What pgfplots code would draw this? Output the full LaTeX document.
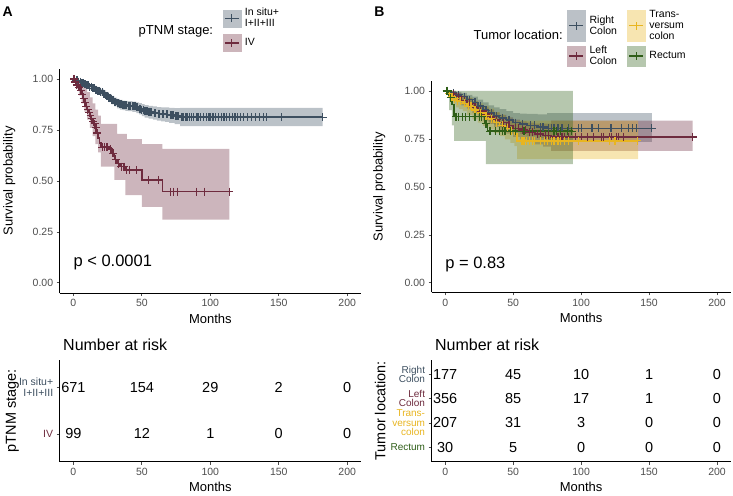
\documentclass[border=0pt]{standalone}
\usepackage{fontspec}
\setmainfont{Liberation Sans}
\usepackage{pgfplots}
\pgfplotsset{compat=1.18}
\usepgfplotslibrary{fillbetween}
\definecolor{slate}{HTML}{3D4F60}
\definecolor{maroon}{HTML}{6E2B3E}
\definecolor{gold}{HTML}{E8B520}
\definecolor{dgreen}{HTML}{2F5E18}
\definecolor{ticklab}{HTML}{4D4D4D}
\pgfplotsset{
  base/.style={scale only axis, clip=false,
    axis x line*=bottom, axis y line*=left,
    axis line style={-, black, line width=1pt},
    tick align=outside, major tick length=3pt,
    tick style={ticklab, line width=0.7pt},
    xmin=-10, xmax=210, xtick={0,50,100,150,200},
    tick label style={font=\fontsize{10.5}{12}\selectfont, text=ticklab},
    /pgf/number format/assume math mode=true,
    label style={font=\fontsize{13}{14}\selectfont},
    xlabel={Months}, scaled ticks=false},
  km/.style={base, ymin=-0.05, ymax=1.05, ytick={0,0.25,0.5,0.75,1},
    yticklabel style={/pgf/number format/fixed, /pgf/number format/fixed zerofill, /pgf/number format/precision=2},
    ylabel={Survival probability}},
  curve/.style={const plot, line width=1.6pt, color=#1, forget plot},
  cens/.style={only marks, mark=+, mark size=4pt, color=#1, mark options={line width=1.2pt}, forget plot},
  bandp/.style={const plot, draw=none, forget plot},
  risk/.style={only marks, mark=none, nodes near coords, point meta=explicit symbolic,
    nodes near coords style={anchor=center, font=\fontsize{14.5}{16}\selectfont, text=black}, forget plot},
}
\begin{document}
\begin{tikzpicture}
\path (0,0) rectangle (733pt,493pt);
\node[anchor=north west, inner sep=0pt, font=\bfseries\fontsize{14}{14}\selectfont] at (2pt,486pt) {A};
\node[anchor=north west, inner sep=0pt, font=\bfseries\fontsize{14}{14}\selectfont] at (374pt,486pt) {B};

% ================= Panel A main =================
\begin{axis}[km, at={(59.3pt,199.8pt)}, anchor=south west, width=301.4pt, height=224.4pt,
  ylabel style={at={(axis description cs:-0.167,0.5)}, anchor=center},
  legend style={at={(axis description cs:0.540,1.28)}, anchor=north west, draw=none, fill=none,
    inner sep=0pt, font=\fontsize{10.5}{11}\selectfont, cells={anchor=west, align=left}, row sep=4pt,
    nodes={inner xsep=4pt}}]
\addplot[bandp, name path=aU] coordinates {(0,1.0)(2,1.0)(4,0.996)(6,0.99)(8,0.985)(10,0.98)(12,0.975)(14,0.968)(16,0.962)(18,0.957)(20,0.951)(22,0.944)(24,0.935)(26,0.926)(28,0.917)(30,0.909)(32,0.902)(34,0.897)(36,0.894)(38,0.892)(40,0.891)(43,0.889)(46,0.885)(48,0.881)(50,0.876)(52,0.871)(55,0.868)(58,0.865)(61,0.862)(64,0.861)(67,0.86)(70,0.858)(74,0.857)(78,0.858)(182,0.858)};
\addplot[bandp, name path=aL] coordinates {(0,1.0)(2,0.985)(4,0.977)(6,0.97)(8,0.963)(10,0.956)(12,0.948)(14,0.94)(16,0.932)(18,0.925)(20,0.917)(22,0.908)(24,0.897)(26,0.886)(28,0.875)(30,0.865)(32,0.856)(34,0.85)(36,0.847)(38,0.844)(40,0.842)(43,0.838)(46,0.832)(48,0.826)(50,0.818)(52,0.81)(55,0.805)(58,0.8)(61,0.795)(64,0.792)(67,0.789)(70,0.784)(74,0.778)(78,0.768)(182,0.768)};
\addplot[fill=slate, fill opacity=0.35, draw=none, forget plot] fill between[of=aU and aL];
\addplot[bandp, name path=bU] coordinates {(0,1.0)(2,1.0)(4,0.99)(6,0.975)(8,0.955)(10,0.935)(12,0.91)(14,0.88)(16,0.85)(18,0.82)(20,0.78)(32,0.73)(39,0.705)(50,0.68)(65,0.657)(114,0.657)};
\addplot[bandp, name path=bL] coordinates {(0,1.0)(2,0.95)(4,0.92)(6,0.88)(8,0.84)(10,0.80)(12,0.76)(14,0.72)(16,0.68)(18,0.64)(20,0.57)(30,0.505)(38,0.43)(50,0.373)(65,0.31)(114,0.31)};
\addplot[fill=maroon, fill opacity=0.35, draw=none, forget plot] fill between[of=bU and bL];
\addplot[curve=slate] coordinates {(0,1.0)(2,0.993)(4,0.987)(6,0.981)(8,0.975)(10,0.969)(12,0.962)(14,0.955)(16,0.948)(18,0.942)(20,0.935)(22,0.927)(24,0.917)(26,0.907)(28,0.897)(30,0.888)(32,0.880)(34,0.875)(36,0.872)(38,0.870)(40,0.868)(43,0.865)(46,0.860)(48,0.855)(50,0.848)(52,0.842)(55,0.838)(58,0.834)(61,0.830)(64,0.828)(67,0.826)(70,0.822)(74,0.818)(78,0.812)(182,0.812)};
\addplot[cens=slate] coordinates {(1,1.0)(2,0.993)(3,0.993)(4,0.987)(5,0.987)(6,0.981)(7,0.981)(8,0.975)(9,0.975)(10,0.969)(11,0.969)(12,0.962)(13,0.962)(14,0.955)(15,0.955)(16,0.948)(17,0.948)(18,0.942)(19,0.942)(20,0.935)(21,0.935)(22,0.927)(23,0.927)(24,0.917)(25,0.917)(26,0.907)(27,0.907)(28,0.897)(29,0.897)(30,0.888)(31,0.888)(32,0.880)(33,0.880)(34,0.875)(35,0.875)(36,0.872)(37,0.872)(38,0.870)(39,0.870)(40,0.868)(41,0.868)(42,0.868)(43,0.865)(44,0.865)(45,0.865)(46,0.860)(47,0.860)(48,0.855)(49,0.855)(50,0.848)(51,0.848)(52,0.842)(53,0.842)(54,0.842)(55,0.838)(56,0.838)(57,0.838)(59,0.834)(60,0.834)(62,0.830)(63,0.830)(65,0.828)(66,0.828)(68,0.826)(69,0.826)(71,0.822)(72,0.822)(73,0.822)(75,0.818)(76,0.818)(77,0.818)(79,0.812)(80,0.812)(82,0.812)(83,0.812)(85,0.812)(86,0.812)(88,0.812)(90,0.812)(91,0.812)(93,0.812)(95,0.812)(97,0.812)(99,0.812)(100,0.812)(102,0.812)(104,0.812)(106,0.812)(108,0.812)(110,0.812)(112,0.812)(114,0.812)(116,0.812)(118,0.812)(120,0.812)(122,0.812)(124,0.812)(127,0.812)(130,0.812)(133,0.812)(136,0.812)(139,0.812)(141,0.812)(152,0.812)(182,0.812)};
\addplot[curve=maroon] coordinates {(0,1.0)(1,0.985)(2,0.97)(3,0.96)(5,0.945)(6,0.925)(7,0.905)(8,0.885)(9,0.865)(10,0.85)(11,0.835)(12,0.82)(13,0.805)(14,0.79)(15,0.78)(16,0.76)(17,0.735)(18,0.71)(19,0.685)(20,0.665)(26,0.655)(28,0.635)(30,0.605)(32,0.585)(34,0.57)(38,0.553)(50,0.505)(65,0.447)(114,0.447)};
\addplot[cens=maroon] coordinates {(0.5,1.0)(1.5,0.985)(2.5,0.97)(4,0.96)(5.5,0.945)(6.5,0.925)(7.5,0.905)(8.5,0.885)(9.5,0.865)(10.5,0.85)(11.5,0.835)(12.5,0.82)(13.5,0.805)(14.5,0.79)(15.5,0.78)(16.5,0.76)(17.5,0.735)(21,0.665)(23,0.665)(24,0.665)(25,0.665)(27,0.655)(29,0.635)(31,0.605)(33,0.585)(35,0.57)(37,0.57)(39,0.553)(41,0.553)(46,0.553)(55,0.505)(62,0.505)(71,0.447)(73,0.447)(76,0.447)(90,0.447)(96,0.447)(114,0.447)};
\node[anchor=west, inner sep=0pt, font=\fontsize{16.5}{18}\selectfont] at (axis cs:0,0.1) {p < 0.0001};
\node[anchor=east, inner sep=0pt, font=\fontsize{13}{14}\selectfont] at (axis description cs:0.51,1.165) {pTNM stage:};
\addlegendimage{legend image code/.code={\fill[slate!35] (0pt,-8.5pt) rectangle (18pt,8.5pt); \draw[slate, line width=1.2pt] (2pt,0pt) -- (16pt,0pt) (9pt,-4pt) -- (9pt,4pt);}}
\addlegendentry{In situ+\\I+II+III}
\addlegendimage{legend image code/.code={\fill[maroon!35] (0pt,-8.5pt) rectangle (18pt,8.5pt); \draw[maroon, line width=1.2pt] (2pt,0pt) -- (16pt,0pt) (9pt,-4pt) -- (9pt,4pt);}}
\addlegendentry{IV}
\end{axis}

% ================= Panel A risk table =================
\begin{axis}[base, at={(59.3pt,31pt)}, anchor=south west, width=301.4pt, height=102pt,
  ymin=0.4, ymax=2.6, ytick={1,2},
  yticklabels={{\textcolor{maroon}{IV}},{\textcolor{slate}{In situ+}\\\textcolor{slate}{I+II+III}}},
  yticklabel style={align=right, font=\fontsize{10.5}{11}\selectfont},
  ylabel={pTNM stage:}, ylabel style={at={(axis description cs:-0.157,0.5)}, anchor=center, font=\fontsize{14.5}{16}\selectfont},
  title={Number at risk}, title style={at={(axis description cs:0,1)}, anchor=base west, yshift=3pt, font=\fontsize{16}{18}\selectfont}]
\addplot[risk] table[meta=n] {
x y n
0 2 671
50 2 154
100 2 29
150 2 2
200 2 0
0 1 99
50 1 12
100 1 1
150 1 0
200 1 0
};
\end{axis}

% ================= Panel B main =================
\begin{axis}[km, at={(431.4pt,200.4pt)}, anchor=south west, width=299.2pt, height=211.2pt,
  ylabel style={at={(axis description cs:-0.175,0.5)}, anchor=center},
  legend columns=2,
  legend style={at={(axis description cs:0.453,1.3475)}, anchor=north west, draw=none, fill=none,
    inner sep=0pt, font=\fontsize{10.5}{11}\selectfont, cells={anchor=west, align=left}, row sep=1pt,
    nodes={inner xsep=4pt},
    /tikz/every even column/.append style={column sep=6pt}}]
\addplot[bandp, name path=rU] coordinates {(0,1.0)(4,1.0)(8,0.995)(12,0.99)(16,0.98)(20,0.97)(24,0.955)(28,0.94)(32,0.925)(36,0.915)(40,0.905)(45,0.895)(50,0.885)(55,0.882)(60,0.88)(68,0.878)(75,0.885)(152,0.885)};
\addplot[bandp, name path=rL] coordinates {(0,1.0)(4,0.975)(8,0.96)(12,0.945)(16,0.925)(20,0.905)(24,0.88)(28,0.86)(32,0.84)(36,0.825)(40,0.81)(45,0.8)(50,0.785)(55,0.775)(60,0.765)(68,0.755)(75,0.735)(152,0.735)};
\addplot[fill=slate, fill opacity=0.35, draw=none, forget plot] fill between[of=rU and rL];
\addplot[bandp, name path=lU] coordinates {(0,1.0)(4,1.0)(8,0.99)(12,0.975)(16,0.962)(20,0.945)(24,0.928)(28,0.915)(32,0.902)(36,0.888)(40,0.875)(45,0.862)(50,0.85)(55,0.842)(60,0.835)(66,0.83)(72,0.83)(78,0.845)(182,0.845)};
\addplot[bandp, name path=lL] coordinates {(0,1.0)(4,0.97)(8,0.95)(12,0.925)(16,0.908)(20,0.885)(24,0.862)(28,0.845)(32,0.828)(36,0.812)(40,0.795)(45,0.778)(50,0.76)(55,0.748)(60,0.736)(66,0.722)(72,0.71)(78,0.6875)(182,0.6875)};
\addplot[fill=maroon, fill opacity=0.35, draw=none, forget plot] fill between[of=lU and lL];
\addplot[bandp, name path=tU] coordinates {(0,1.0)(2,1.0)(4,0.995)(6,0.99)(8,0.985)(10,0.982)(13,0.975)(16,0.965)(20,0.948)(24,0.935)(28,0.922)(32,0.908)(36,0.89)(40,0.877)(44,0.864)(48,0.852)(51,0.84)(53,0.845)(142,0.845)};
\addplot[bandp, name path=tL] coordinates {(0,1.0)(2,0.965)(4,0.945)(6,0.93)(8,0.915)(10,0.905)(13,0.895)(16,0.875)(20,0.852)(24,0.835)(28,0.818)(32,0.8)(36,0.78)(40,0.764)(44,0.748)(48,0.73)(51,0.712)(53,0.645)(142,0.645)};
\addplot[fill=gold, fill opacity=0.35, draw=none, forget plot] fill between[of=tU and tL];
\addplot[bandp, name path=gU] coordinates {(0,1.0)(94,1.0)};
\addplot[bandp, name path=gL] coordinates {(0,1.0)(3,0.9)(5,0.82)(6.5,0.74)(30,0.618)(94,0.618)};
\addplot[fill=dgreen, fill opacity=0.35, draw=none, forget plot] fill between[of=gU and gL];
% Right colon
\addplot[curve=slate] coordinates {(0,1.0)(4,0.99)(8,0.98)(12,0.97)(16,0.955)(20,0.94)(24,0.92)(28,0.90)(32,0.885)(36,0.87)(40,0.86)(45,0.85)(50,0.835)(55,0.828)(60,0.82)(68,0.812)(75,0.805)(152,0.805)};
\addplot[cens=slate] coordinates {(2,1.0)(6,0.99)(10,0.98)(14,0.97)(18,0.955)(22,0.94)(26,0.92)(30,0.90)(34,0.885)(38,0.87)(42,0.86)(47,0.85)(52,0.835)(57,0.828)(63,0.82)(66,0.82)(70,0.812)(72,0.812)(76,0.805)(78,0.805)(80,0.805)(83,0.805)(86,0.805)(91,0.805)(98,0.805)(100.5,0.805)(108,0.805)(113,0.805)(122,0.805)(130,0.805)(135,0.805)(138,0.805)(141,0.805)(152,0.805)};
% Left colon
\addplot[curve=maroon] coordinates {(0,1.0)(4,0.985)(8,0.97)(12,0.95)(16,0.935)(20,0.915)(24,0.895)(28,0.88)(32,0.865)(36,0.85)(40,0.835)(45,0.82)(50,0.805)(55,0.795)(60,0.785)(66,0.775)(72,0.768)(78,0.76)(182,0.76)};
\addplot[cens=maroon] coordinates {(2,1.0)(6,0.985)(10,0.97)(14,0.95)(18,0.935)(22,0.915)(26,0.895)(30,0.88)(34,0.865)(38,0.85)(43,0.835)(47,0.82)(52,0.805)(54,0.805)(57,0.795)(59,0.795)(62,0.785)(64,0.785)(68,0.775)(70,0.775)(74,0.768)(76,0.768)(80,0.76)(83,0.76)(86,0.76)(88,0.76)(91,0.76)(96,0.76)(100.5,0.76)(105,0.76)(109,0.76)(115,0.76)(116.5,0.76)(121,0.76)(122.5,0.76)(126,0.76)(127.5,0.76)(131,0.76)(182,0.76)};
% Transversum colon
\addplot[curve=gold] coordinates {(0,1.0)(2,0.985)(4,0.97)(6,0.96)(8,0.95)(10,0.945)(13,0.935)(16,0.92)(20,0.9)(24,0.885)(28,0.87)(32,0.855)(36,0.835)(40,0.82)(44,0.805)(48,0.79)(51,0.775)(53,0.74)(142,0.74)};
\addplot[cens=gold] coordinates {(1,1.0)(3,0.985)(5,0.97)(7,0.96)(9,0.95)(11,0.945)(14,0.935)(17,0.92)(19,0.92)(22,0.9)(26,0.885)(30,0.87)(34,0.855)(38,0.835)(42,0.82)(46,0.805)(49,0.79)(56,0.74)(57,0.74)(58,0.74)(60,0.74)(62,0.74)(64,0.74)(66,0.74)(70,0.74)(73,0.74)(75,0.74)(78,0.74)(80,0.74)(83,0.74)(85,0.74)(88,0.74)(91,0.74)(98,0.74)(121,0.74)(125,0.74)(141.5,0.74)};
% Rectum
\addplot[curve=dgreen] coordinates {(0,1.0)(3,0.965)(5,0.93)(6.5,0.866)(29,0.83)(31,0.79)(94,0.79)};
\addplot[cens=dgreen] coordinates {(1,1.0)(2,1.0)(4,0.965)(8,0.866)(10,0.866)(13,0.866)(15,0.866)(18,0.866)(22,0.866)(25,0.866)(27,0.866)(30,0.83)(33,0.79)(37,0.79)(40,0.79)(42,0.79)(44,0.79)(48,0.79)(52,0.79)(58,0.79)(80,0.79)(82,0.79)(85,0.79)(90,0.79)(93,0.79)};
\node[anchor=west, inner sep=0pt, font=\fontsize{16.5}{18}\selectfont] at (axis cs:0,0.094) {p = 0.83};
\node[anchor=east, inner sep=0pt, font=\fontsize{13}{14}\selectfont] at (axis description cs:0.439,1.22) {Tumor location:};
\addlegendimage{legend image code/.code={\fill[slate!35] (0pt,-15.5pt) rectangle (18pt,15.5pt); \draw[slate, line width=1.2pt] (2pt,0pt) -- (16pt,0pt) (9pt,-4pt) -- (9pt,4pt);}}
\addlegendentry{Right\\Colon}
\addlegendimage{legend image code/.code={\fill[gold!35] (0pt,-15.5pt) rectangle (18pt,15.5pt); \draw[gold, line width=1.2pt] (2pt,0pt) -- (16pt,0pt) (9pt,-4pt) -- (9pt,4pt);}}
\addlegendentry{Trans-\\versum\\colon}
\addlegendimage{legend image code/.code={\fill[maroon!35] (0pt,-10pt) rectangle (18pt,10pt); \draw[maroon, line width=1.2pt] (2pt,0pt) -- (16pt,0pt) (9pt,-4pt) -- (9pt,4pt);}}
\addlegendentry{Left\\Colon}
\addlegendimage{legend image code/.code={\fill[dgreen!35] (0pt,-10pt) rectangle (18pt,10pt); \draw[dgreen, line width=1.2pt] (2pt,0pt) -- (16pt,0pt) (9pt,-4pt) -- (9pt,4pt);}}
\addlegendentry{Rectum}
\end{axis}

% ================= Panel B risk table =================
\begin{axis}[base, at={(431.4pt,31pt)}, anchor=south west, width=299.2pt, height=102pt,
  ymin=0.4, ymax=4.6, ytick={1,2,3,4},
  yticklabels={{\textcolor{dgreen}{Rectum}},{\textcolor{gold}{Trans-}\\\textcolor{gold}{versum}\\\textcolor{gold}{colon}},{\textcolor{maroon}{Left}\\\textcolor{maroon}{Colon}},{\textcolor{slate}{Right}\\\textcolor{slate}{Colon}}},
  yticklabel style={align=right, font=\fontsize{10}{9.6}\selectfont},
  ylabel={Tumor location:}, ylabel style={at={(axis description cs:-0.172,0.5)}, anchor=center, font=\fontsize{14.5}{16}\selectfont},
  title={Number at risk}, title style={at={(axis description cs:0,1)}, anchor=base west, yshift=3pt, font=\fontsize{16}{18}\selectfont}]
\addplot[risk] table[meta=n] {
x y n
0 4 177
50 4 45
100 4 10
150 4 1
200 4 0
0 3 356
50 3 85
100 3 17
150 3 1
200 3 0
0 2 207
50 2 31
100 2 3
150 2 0
200 2 0
0 1 30
50 1 5
100 1 0
150 1 0
200 1 0
};
\end{axis}
\end{tikzpicture}
\end{document}
